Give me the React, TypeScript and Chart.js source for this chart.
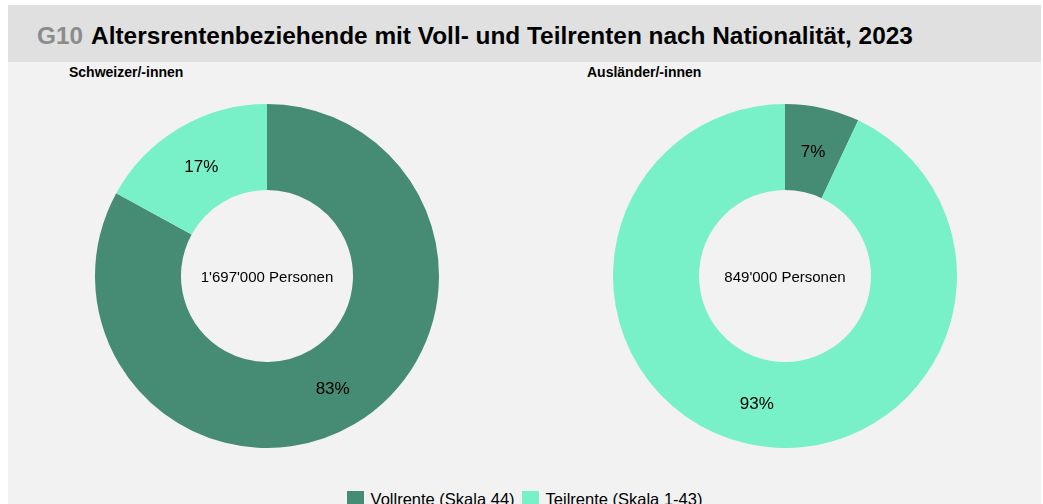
import React, { useEffect, useRef } from "react";
import { Chart, registerables } from "chart.js";

Chart.register(...registerables);

const titleCode = "G10";
const titleText = "Altersrentenbeziehende mit Voll- und Teilrenten nach Nationalität, 2023";
const categories = ["Vollrente (Skala 44)", "Teilrente (Skala 1-43)"];
const groups = ["Schweizer/-innen", "Ausländer/-innen"];
const swissValues = [83, 17];
const foreignValues = [7, 93];
const totals = ["1'697'000 Personen", "849'000 Personen"];
const colors = ["#468B74", "#78F0C8"];

const FONT = '"Liberation Sans", Arial, Helvetica, sans-serif';

const labelPlugin = {
  id: "donutLabels",
  afterDatasetsDraw(chart: any, _args: any, opts: any) {
    const ctx = chart.ctx;
    const meta = chart.getDatasetMeta(0);
    const data = chart.data.datasets[0].data as number[];
    ctx.save();
    ctx.fillStyle = "#000";
    ctx.textAlign = "center";
    ctx.textBaseline = "middle";
    ctx.font = `17px ${FONT}`;
    meta.data.forEach((arc: any, i: number) => {
      const p = arc.tooltipPosition(false);
      ctx.fillText(`${data[i]}%`, p.x, p.y + 2);
    });
    const c = meta.data[0];
    ctx.font = `15px ${FONT}`;
    ctx.fillText(opts.center || "", c.x, c.y + 2);
    ctx.restore();
  },
};

function Donut({ values, center, left, top }: { values: number[]; center: string; left: number; top: number }) {
  const ref = useRef<HTMLCanvasElement | null>(null);
  useEffect(() => {
    if (!ref.current) return;
    const chart = new Chart(ref.current, {
      type: "doughnut",
      data: {
        labels: categories,
        datasets: [
          {
            data: values,
            backgroundColor: colors,
            borderWidth: 0,
          },
        ],
      },
      options: {
        animation: false,
        responsive: false,
        maintainAspectRatio: false,
        cutout: "50%",
        layout: { padding: 0 },
        plugins: {
          legend: { display: false },
          tooltip: { enabled: false },
          donutLabels: { center },
        } as any,
        events: [],
      },
      plugins: [labelPlugin as any],
    });
    return () => chart.destroy();
  }, [values, center]);
  return (
    <canvas
      ref={ref}
      width={344}
      height={344}
      style={{ position: "absolute", left, top, width: 344, height: 344 }}
    />
  );
}

export default function App() {
  return (
    <div style={{ position: "absolute", left: 0, top: 0, width: 1043, height: 504, overflow: "hidden", background: "#fff", fontFamily: FONT }}>
      <div style={{ position: "absolute", left: 8, top: 5, width: 1033, height: 530, background: "#f2f2f2" }} />
      <div style={{ position: "absolute", left: 8, top: 5, width: 1033, height: 57, background: "#e0e0e0" }} />
      <div
        style={{
          position: "absolute",
          left: 37,
          top: 24,
          fontSize: 24.4,
          lineHeight: "24px",
          fontWeight: "bold",
          whiteSpace: "nowrap",
          color: "#000",
        }}
      >
        <span style={{ color: "#8c8c8c", marginRight: 8 }}>{titleCode}</span>
        <span>{titleText}</span>
      </div>
      <div style={{ position: "absolute", left: 69, top: 65, fontSize: 14, lineHeight: "14px", fontWeight: "bold", whiteSpace: "nowrap" }}>
        {groups[0]}
      </div>
      <div style={{ position: "absolute", left: 587, top: 65, fontSize: 14, lineHeight: "14px", fontWeight: "bold", whiteSpace: "nowrap" }}>
        {groups[1]}
      </div>
      <Donut values={swissValues} center={totals[0]} left={95} top={104} />
      <Donut values={foreignValues} center={totals[1]} left={613} top={104} />
      <div
        style={{
          position: "absolute",
          left: 8,
          top: 491,
          width: 1033,
          height: 17,
          display: "flex",
          justifyContent: "center",
          alignItems: "center",
          fontSize: 16.5,
          lineHeight: "17px",
          color: "#000",
          whiteSpace: "nowrap",
        }}
      >
        {categories.map((c, i) => (
          <div key={c} style={{ display: "flex", alignItems: "center", marginLeft: i ? 7 : 0 }}>
            <span style={{ display: "inline-block", width: 17, height: 17, background: colors[i], marginRight: 7 }} />
            <span>{c}</span>
          </div>
        ))}
      </div>
    </div>
  );
}
